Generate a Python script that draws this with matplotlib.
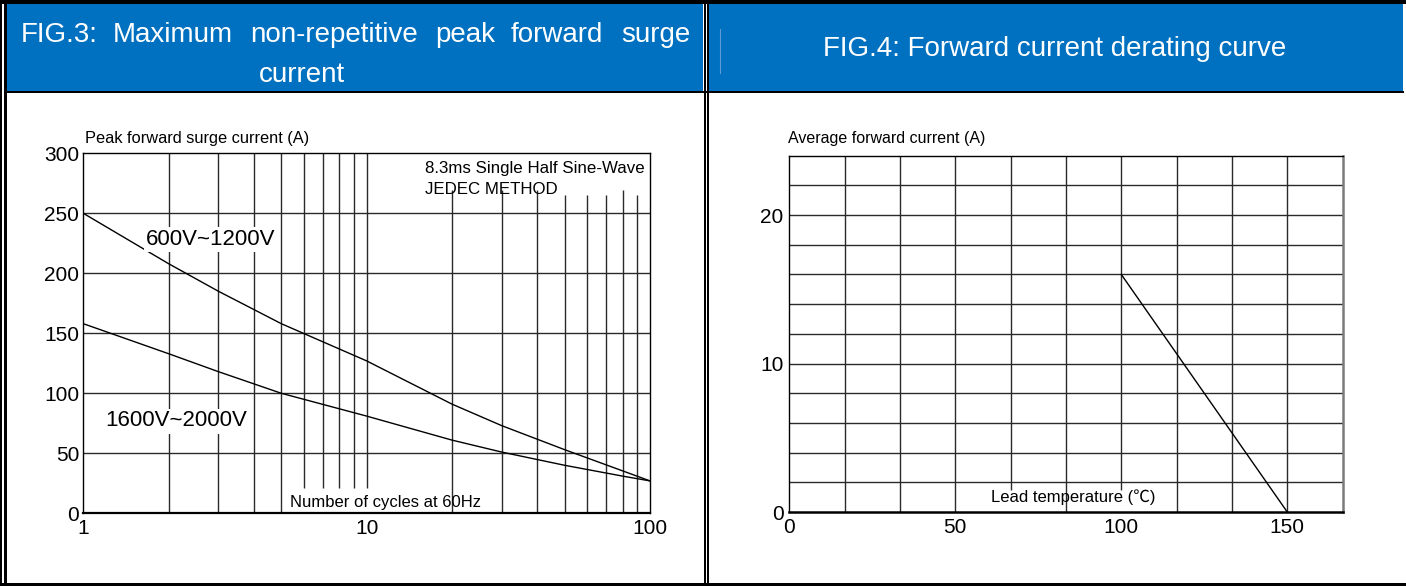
import numpy as np
import matplotlib

matplotlib.use("Agg")
from matplotlib import pyplot as plt
import matplotlib.patches as patches
from matplotlib.ticker import NullLocator

# FIG.3: surge current vs number of cycles
surge_cycles = [1, 2, 3, 5, 10, 20, 30, 50, 100]
surge_600v_1200v = [250, 208, 185, 158, 127, 91, 73, 53, 27]
surge_cycles_hv = [1, 2, 3, 5, 10, 20, 30, 50, 80, 100]
surge_1600v_2000v = [158, 133, 118, 100, 81, 61, 51, 40, 31, 27]
surge_xticks = [1, 10, 100]
surge_yticks = [0, 50, 100, 150, 200, 250, 300]

# FIG.4: derating curve
derate_temp = [100, 150]
derate_current = [16, 0]
derate_xticks = [0, 50, 100, 150]
derate_yticks = [0, 10, 20]

W, H = 1406, 586
BLUE = "#0070C0"
GRID = "#2a2a2a"
FONT = ["Liberation Sans", "Noto Sans CJK SC", "DejaVu Sans"]

plt.rcParams["font.family"] = FONT

fig = plt.figure(figsize=(W / 100, H / 100), dpi=100)

# background layer in pixel coordinates (frames + blue headers)
bg = fig.add_axes([0, 0, 1, 1])
bg.set_xlim(0, W)
bg.set_ylim(H, 0)
bg.axis("off")


def px_axes(x0, y0, x1, y1):
    return fig.add_axes([x0 / W, 1 - y1 / H, (x1 - x0) / W, (y1 - y0) / H])


def rect(x, y, w, h, color):
    bg.add_patch(patches.Rectangle((x, y), w, h, facecolor=color,
                                   edgecolor="none", linewidth=0))


rect(6.7, 4, 703.3 - 6.7, 87, BLUE)
rect(708.7, 4, 1403.3 - 708.7, 87, BLUE)
rect(0, 0, W, 4, "black")
rect(4, 90.5, 1400, 2.3, "black")
rect(0, 582.5, W, 3.5, "black")
rect(0, 0, 1.5, H, "black")
rect(4, 0, 2.7, H, "black")
rect(703.5, 0, 2.7, H, "black")
rect(707.3, 0, 1.6, H, "black")
bg.plot([720, 720], [29, 73], color="#5f9ad3", lw=0.8)

# titles (left one is justified over the header width)
for word, x in [("FIG.3:", 21), ("Maximum", 113), ("non-repetitive", 250),
                ("peak", 435), ("forward", 511), ("surge", 621)]:
    bg.text(x, 42, word, color="white", fontsize=20, ha="left", va="baseline")
bg.text(302, 82, "current", color="white", fontsize=20, ha="center",
        va="baseline")
bg.text(1054.5, 56, "FIG.4: Forward current derating curve", color="white",
        fontsize=20, ha="center", va="baseline")

# ---------------- FIG.3 ----------------
ax1 = px_axes(83.3, 153.3, 650, 513.3)
ax1.set_xscale("log")
ax1.set_xlim(1, 100)
ax1.set_ylim(0, 300)
ax1.hlines([50, 100, 150, 200, 250], 1, 100, color=GRID, lw=1)
ax1.vlines([2, 3, 4, 5], 0, 300, color=GRID, lw=1)
ax1.vlines([6, 7, 8, 9, 10], 21, 300, color=GRID, lw=1)
ax1.vlines([20, 30, 40], 0, 269, color=GRID, lw=1)
ax1.vlines([50, 60, 70, 90], 0, 265, color=GRID, lw=1)
ax1.vlines([80], 0, 269, color=GRID, lw=1)
ax1.plot(surge_cycles, surge_600v_1200v, color="black", lw=1)
ax1.plot(surge_cycles_hv, surge_1600v_2000v, color="black", lw=1)
ax1.set_xticks(surge_xticks)
ax1.set_xticklabels([str(v) for v in surge_xticks])
ax1.xaxis.set_minor_locator(NullLocator())
ax1.set_yticks(surge_yticks)
ax1.set_yticklabels([str(v) for v in surge_yticks])
ax1.tick_params(length=0, labelsize=15)
ax1.tick_params(axis="x", pad=4)
ax1.tick_params(axis="y", pad=3)
for s in ax1.spines.values():
    s.set_linewidth(1)
ax1.spines["bottom"].set_linewidth(1.6)

# ---------------- FIG.4 ----------------
ax2 = px_axes(789.3, 155.7, 1342.6, 512)
ax2.set_xlim(0, 500 / 3)
ax2.set_ylim(0, 24)
ax2.hlines(np.arange(2, 24, 2), 0, 500 / 3, color=GRID, lw=1)
xg = np.arange(1, 10) * 50 / 3
ax2.vlines([v for i, v in enumerate(xg) if i not in (3, 5)], 0, 24,
           color=GRID, lw=1)
ax2.vlines([xg[3], xg[5]], 1.45, 24, color=GRID, lw=1)
ax2.plot(derate_temp, derate_current, color="black", lw=1)
ax2.set_xticks(derate_xticks)
ax2.set_xticklabels([str(v) for v in derate_xticks])
ax2.set_yticks(derate_yticks)
ax2.set_yticklabels([str(v) for v in derate_yticks])
ax2.tick_params(length=0, labelsize=15)
ax2.tick_params(axis="x", pad=4)
ax2.tick_params(axis="y", pad=4)
for s in ax2.spines.values():
    s.set_linewidth(1)
ax2.spines["bottom"].set_linewidth(1.8)
ax2.spines["right"].set_linewidth(1.8)
ax2.spines["right"].set_color("#7a7a7a")

# annotation layer on top
top = fig.add_axes([0, 0, 1, 1])
top.set_xlim(0, W)
top.set_ylim(H, 0)
top.axis("off")
top.patch.set_alpha(0)

box = dict(facecolor="white", edgecolor="none", pad=1.5)
top.text(85, 143, "Peak forward surge current (A)", fontsize=11.8,
         va="baseline")
top.text(425, 173, "8.3ms Single Half Sine-Wave", fontsize=12.2,
         va="baseline")
top.text(425, 194, "JEDEC METHOD", fontsize=12.2, va="baseline")
top.text(211, 245, "600V~1200V", fontsize=16, ha="center", va="baseline",
         bbox=box)
top.text(176.5, 426.5, "1600V~2000V", fontsize=16, ha="center",
         va="baseline", bbox=box)
top.text(289.6, 507, "Number of cycles at 60Hz", fontsize=12, va="baseline")
top.text(788, 143, "Average forward current (A)", fontsize=11.5,
         va="baseline")
top.text(990.6, 502, "Lead temperature (\u2103)", fontsize=12, va="baseline")

fig.savefig("out.png", dpi=100)
